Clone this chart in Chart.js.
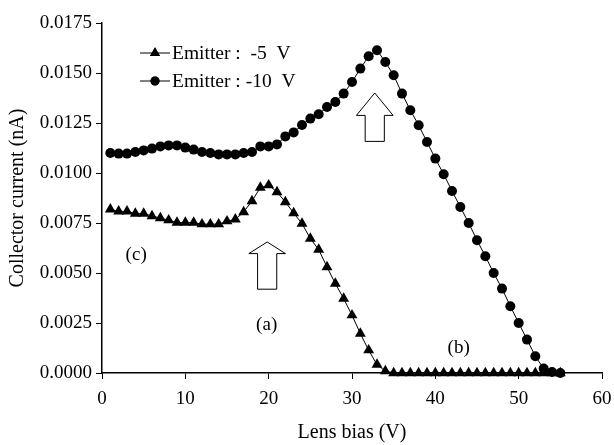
<!DOCTYPE html>
<html>
<head>
<meta charset="utf-8">
<script src="https://cdn.jsdelivr.net/npm/chart.js@4/dist/chart.umd.min.js"></script>
<style>
  html, body { margin: 0; padding: 0; background: #fff; }
  #wrap { width: 614px; height: 445px; position: relative; }
</style>
</head>
<body>
<div id="wrap"><canvas id="c" width="614" height="445"></canvas></div>
<script>
// ---- data ----
const lensBias = [1,2,3,4,5,6,7,8,9,10,11,12,13,14,15,16,17,18,19,20,21,22,23,24,25,26,27,28,29,30,
  31,32,33,34,35,36,37,38,39,40,41,42,43,44,45,46,47,48,49,50,51,52,53,54,55];
const emitter5 = [0.00818,0.00808,0.00808,0.00797,0.00797,0.00785,0.00775,0.00764,0.00752,0.00752,
  0.00752,0.00744,0.00744,0.00744,0.00759,0.00768,0.00805,0.00860,0.00927,0.00939,
  0.00905,0.00855,0.00800,0.00747,0.00672,0.00617,0.00530,0.00447,0.00372,0.00289,
  0.00197,0.00114,0.00042,0.00010,0,0,0,0,0,0,
  0,0,0,0,0,0,0,0,0,0,0,0,0,0,0];
const emitter10 = [0.01100,0.01097,0.01097,0.01105,0.01113,0.01122,0.01133,0.01138,0.01138,0.01127,
  0.01117,0.01105,0.01100,0.01093,0.01093,0.01093,0.01100,0.01105,0.01133,0.01133,
  0.01143,0.01183,0.01203,0.01240,0.01272,0.01294,0.01330,0.01355,0.01397,0.01455,
  0.01522,0.01584,0.01614,0.01555,0.01489,0.01397,0.01314,0.01239,0.01155,0.01072,
  0.00994,0.00910,0.00830,0.00750,0.00664,0.00584,0.00500,0.00422,0.00334,0.00250,
  0.00167,0.00084,0.00022,0.00005,0.0];
const seriesNames = ['Emitter :  -5  V', 'Emitter : -10  V'];
const xTitle = 'Lens bias (V)';
const yTitle = 'Collector current (nA)';
// annotation labels [text, lens bias, current]
const noteText = ['(c)', '(a)', '(b)'];
const noteX = [4.1, 19.76, 42.8];
const noteY = [0.00589, 0.00239, 0.00124];
// hollow arrows: centre x, tip, head base, tail (data units)
const arrowX = [19.82, 32.73];
const arrowTip = [0.00655, 0.0140];
const arrowHeadBase = [0.00597, 0.01288];
const arrowTail = [0.00419, 0.01158];

const FONT = "'Liberation Serif', 'DejaVu Serif', serif";

const pts = (ys) => lensBias.map((x, i) => ({ x: x, y: ys[i] }));

const overlay = {
  id: 'overlay',
  afterDatasetsDraw(chart) {
    const ctx = chart.ctx;
    const xs = chart.scales.x, ys = chart.scales.y;
    const unitX = xs.getPixelForValue(1) - xs.getPixelForValue(0);
    ctx.save();
    // arrows
    ctx.lineWidth = 1;
    ctx.strokeStyle = '#000';
    ctx.fillStyle = '#fff';
    for (let i = 0; i < arrowX.length; i++) {
      const cx = xs.getPixelForValue(arrowX[i]);
      const tip = ys.getPixelForValue(arrowTip[i]);
      const hb = ys.getPixelForValue(arrowHeadBase[i]);
      const tail = ys.getPixelForValue(arrowTail[i]);
      const hw = 2.2 * unitX, sw = 1.15 * unitX;
      ctx.beginPath();
      ctx.moveTo(cx, tip);
      ctx.lineTo(cx + hw, hb);
      ctx.lineTo(cx + sw, hb);
      ctx.lineTo(cx + sw, tail);
      ctx.lineTo(cx - sw, tail);
      ctx.lineTo(cx - sw, hb);
      ctx.lineTo(cx - hw, hb);
      ctx.closePath();
      ctx.fill();
      ctx.stroke();
    }
    // annotations
    ctx.fillStyle = '#000';
    ctx.font = '19px ' + FONT;
    ctx.textAlign = 'center';
    ctx.textBaseline = 'middle';
    for (let i = 0; i < noteText.length; i++) {
      ctx.fillText(noteText[i], xs.getPixelForValue(noteX[i]), ys.getPixelForValue(noteY[i]));
    }
    // legend
    const ca = chart.chartArea;
    const lx0 = ca.left + 38, lx1 = ca.left + 68, ly = ca.top + 30, gap = 28;
    ctx.textAlign = 'left';
    ctx.font = '19.5px ' + FONT;
    chart.data.datasets.forEach((ds, i) => {
      const y = ly + i * gap;
      ctx.beginPath();
      ctx.strokeStyle = '#000';
      ctx.lineWidth = 1;
      ctx.moveTo(lx0, y);
      ctx.lineTo(lx1, y);
      ctx.stroke();
      ctx.fillStyle = '#000';
      Chart.helpers.drawPoint(ctx, { pointStyle: ds.pointStyle, radius: ds.pointRadius - 0.5, borderWidth: 0, rotation: 0 }, (lx0 + lx1) / 2, y);
      ctx.fill();
      ctx.fillText(seriesNames[i], lx1 + 2, y + 1);
    });
    ctx.restore();
  }
};

new Chart(document.getElementById('c'), {
  type: 'line',
  data: {
    datasets: [
      { label: seriesNames[0], data: pts(emitter5), pointStyle: 'triangle', pointRadius: 6.3,
        pointBackgroundColor: '#000', pointBorderColor: '#000', pointBorderWidth: 0,
        borderColor: '#000', borderWidth: 1, tension: 0, clip: false },
      { label: seriesNames[1], data: pts(emitter10), pointStyle: 'circle', pointRadius: 5,
        pointBackgroundColor: '#000', pointBorderColor: '#000', pointBorderWidth: 0,
        borderColor: '#000', borderWidth: 1, tension: 0, clip: false }
    ]
  },
  options: {
    responsive: false,
    animation: false,
    devicePixelRatio: 1,
    layout: { autoPadding: false, padding: { left: 0, top: 23, right: 12, bottom: 0 } },
    plugins: { legend: { display: false }, tooltip: { enabled: false } },
    scales: {
      x: {
        type: 'linear', min: 0, max: 60,
        afterFit(s) { s.height = 72; s.paddingLeft = 0; s.paddingRight = 0; },
        ticks: { stepSize: 10, color: '#000', font: { family: FONT, size: 19 }, padding: 9, maxRotation: 0 },
        grid: { display: true, drawOnChartArea: false, drawTicks: true, tickLength: 6, color: '#000', lineWidth: 1 },
        border: { display: true, color: '#000', width: 1.5 },
        title: { display: true, text: xTitle, color: '#000', font: { family: FONT, size: 20 }, padding: { top: 0, bottom: 0 } }
      },
      y: {
        min: 0, max: 0.0175,
        afterFit(s) { s.width = 102; s.paddingTop = 0; s.paddingBottom = 0; },
        ticks: { stepSize: 0.0025, color: '#000', font: { family: FONT, size: 19 }, padding: 4,
          callback: (v) => Number(v).toFixed(4) },
        grid: { display: true, drawOnChartArea: false, drawTicks: true, tickLength: 6, color: '#000', lineWidth: 1 },
        border: { display: true, color: '#000', width: 1.5 },
        title: { display: true, text: yTitle, color: '#000', font: { family: FONT, size: 20 }, padding: { top: 6, bottom: 0 } }
      }
    }
  },
  plugins: [overlay]
});
</script>
</body>
</html>
